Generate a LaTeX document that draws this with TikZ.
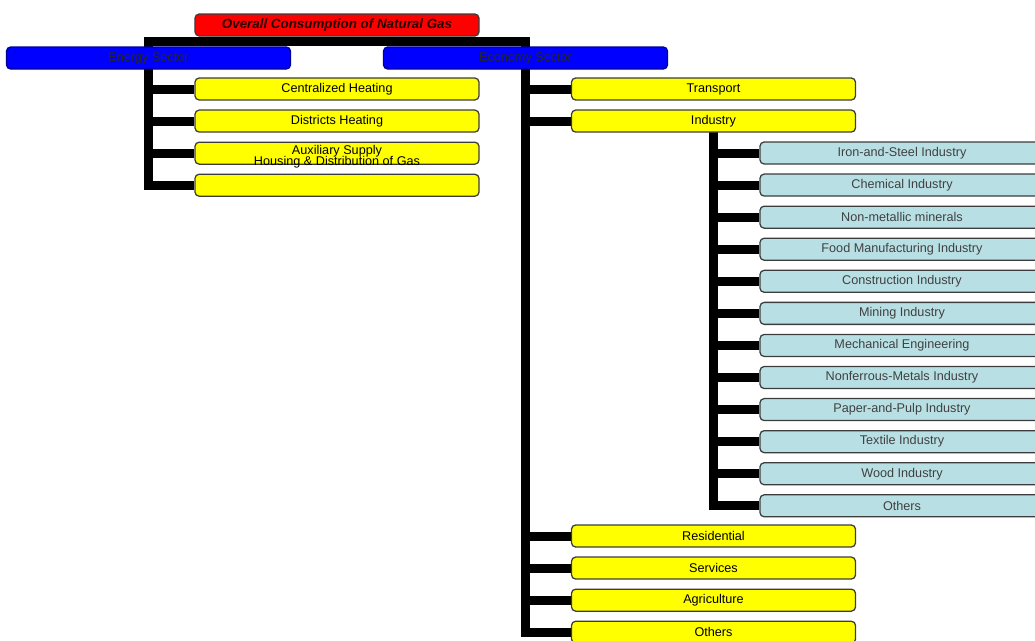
\documentclass[tikz,border=0pt]{standalone}
\usepackage{fontspec}
\setmainfont{Liberation Sans}
\usetikzlibrary{positioning, backgrounds}
\definecolor{cTop}{RGB}{255,0,0}
\definecolor{cSector}{RGB}{0,0,255}
\definecolor{cBranch}{RGB}{255,255,0}
\definecolor{cInd}{RGB}{184,224,228}
\definecolor{cEdge}{RGB}{60,60,60}

\begin{document}
\begin{tikzpicture}[x=0.025cm, y=-0.025cm, node distance=0.22cm,
  box/.style={draw=cEdge, line width=0.9pt, rounded corners=3pt, minimum width=7.1cm, minimum height=0.55cm, inner sep=0pt, font=\fontsize{9}{10}\selectfont},
  ybox/.style={box, fill=cBranch},
  ibox/.style={box, fill=cInd, text=black!75},
  sbox/.style={box, fill=cSector, draw=cSector!60!black, text=black!85},
  trunk/.style={line width=0.225cm, black}]
  \useasboundingbox (0,0) rectangle (1035,640);
  % top level
  \node[box, fill=cTop, text=black!85!red, font=\fontsize{9.5}{10}\selectfont\bfseries\itshape] (gas) at (337,25) {Overall Consumption of Natural Gas};
  \node[sbox] (energy) at (148.5,58) {Energy Sector};
  \node[sbox] (economy) at (525.5,58) {Economy Sector};
  % energy sector
  \node[ybox] (central) at (337,89) {Centralized Heating};
  \node[ybox, below=of central] (district) {Districts Heating};
  \node[ybox, below=of district] (aux) {};
  \node[ybox, below=of aux] (housing) {};
  \node[font=\fontsize{9}{10}\selectfont] (auxlabel) at (337,151) {Auxiliary Supply};
  \node[font=\fontsize{9}{10}\selectfont] (houslabel) at (337,162) {Housing \& Distribution of Gas};
  % economy sector
  \node[ybox] (transport) at (713.5,89) {Transport};
  \node[ybox, below=of transport] (industry) {Industry};
  \node[ibox] (iron) at (902,153) {Iron-and-Steel Industry};
  \node[ibox, below=of iron] (chem) {Chemical Industry};
  \node[ibox, below=of chem] (nonmet) {Non-metallic minerals};
  \node[ibox, below=of nonmet] (food) {Food Manufacturing Industry};
  \node[ibox, below=of food] (constr) {Construction Industry};
  \node[ibox, below=of constr] (mining) {Mining Industry};
  \node[ibox, below=of mining] (mech) {Mechanical Engineering};
  \node[ibox, below=of mech] (nonfer) {Nonferrous-Metals Industry};
  \node[ibox, below=of nonfer] (paper) {Paper-and-Pulp Industry};
  \node[ibox, below=of paper] (textile) {Textile Industry};
  \node[ibox, below=of textile] (wood) {Wood Industry};
  \node[ibox, below=of wood] (indother) {Others};
  \node[ybox] (resid) at (713.5,536) {Residential};
  \node[ybox, below=of resid] (serv) {Services};
  \node[ybox, below=of serv] (agri) {Agriculture};
  \node[ybox, below=of agri] (ecoother) {Others};
  % connectors
  \begin{scope}[on background layer]
    \draw[trunk] (energy.center) |- ([yshift=-0.125cm]gas.south) -| (economy.center);
    \foreach \c in {central,district,aux,housing}
      \draw[trunk] (energy.center) |- (\c.west);
    \foreach \c in {transport,industry,resid,serv,agri,ecoother}
      \draw[trunk] (economy.center) |- (\c.west);
    \foreach \c in {iron,chem,nonmet,food,constr,mining,mech,nonfer,paper,textile,wood,indother}
      \draw[trunk] (industry.center) |- (\c.west);
  \end{scope}
\end{tikzpicture}
\end{document}
